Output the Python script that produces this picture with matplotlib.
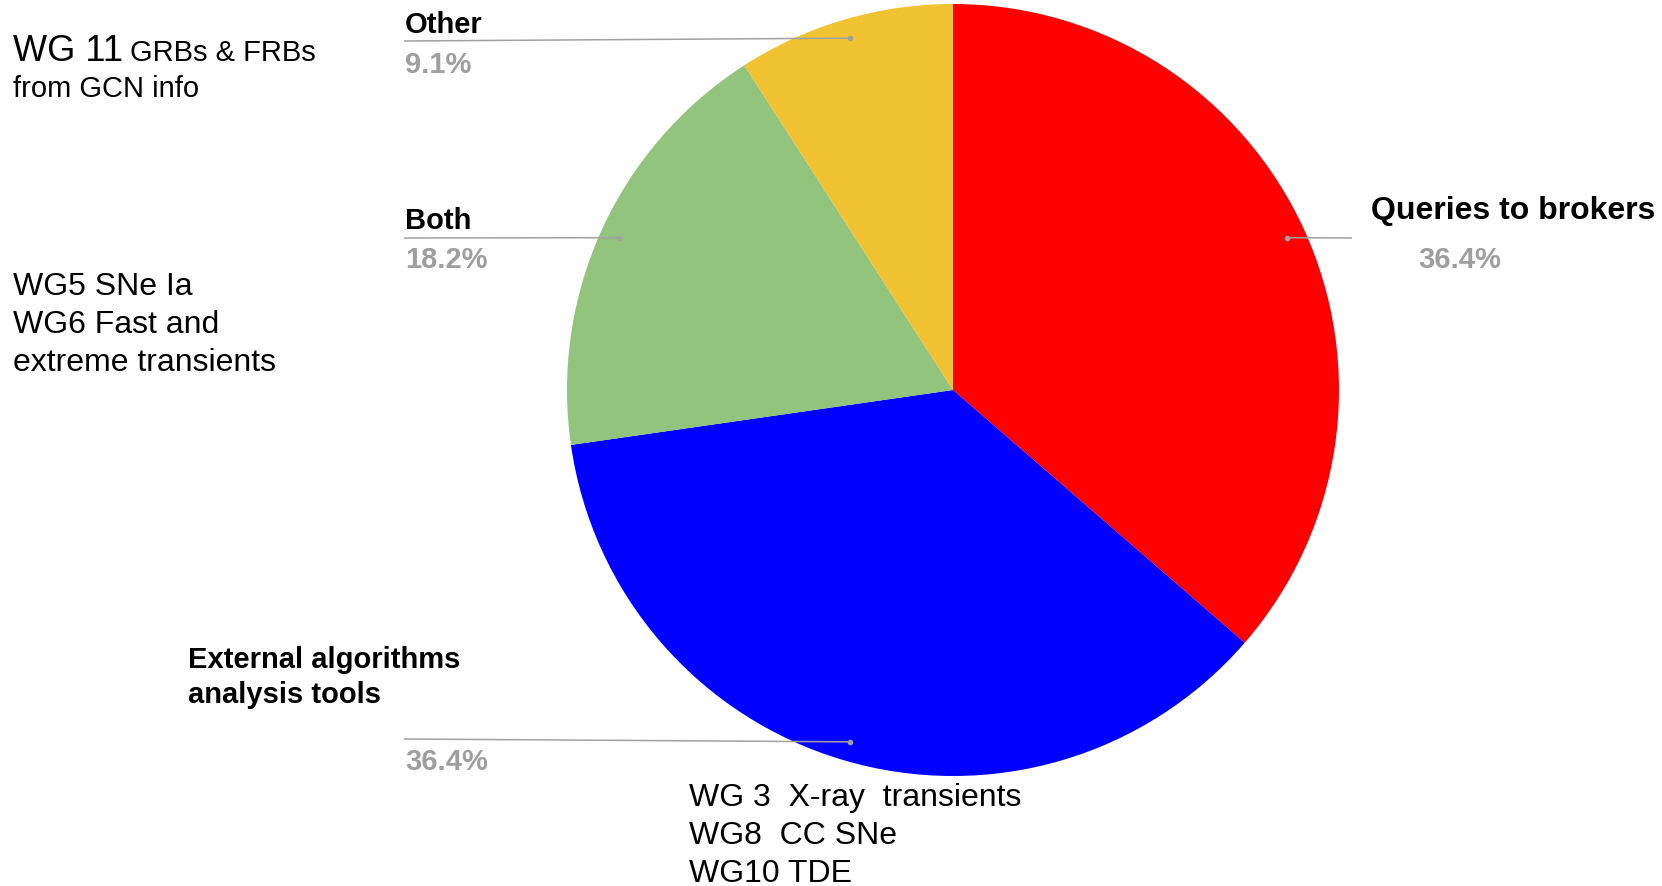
import numpy as np
import matplotlib.pyplot as plt

plt.rcParams['font.family'] = ['Liberation Sans', 'DejaVu Sans']

categories = ['Queries to brokers', 'External algorithms\nanalysis tools', 'Both', 'Other']
counts = [4, 4, 2, 1]
colors = ['#ff0000', '#0000ff', '#93c47d', '#f1c232']

W, H = 1662, 886
fig = plt.figure(figsize=(W / 100, H / 100), dpi=100)
ax = fig.add_axes([0, 0, 1, 1])

cx, cy, r = 953, H - 390, 386
wedges, _ = ax.pie(counts, colors=colors, startangle=90, counterclock=False,
                   center=(cx, cy), radius=r,
                   wedgeprops=dict(linewidth=0, antialiased=True))
ax.set_xlim(0, W)
ax.set_ylim(0, H)
ax.set_aspect('equal')
ax.axis('off')

pct = [100 * c / sum(counts) for c in counts]
grey = '#9e9e9e'
line_grey = '#a0a0a0'


def Y(y):
    # pixel row (from top) -> data y
    return H - y


# label placement: (label x, label baseline, label size, pct x, pct baseline, line end x, line end y)
label_pos = [
    (1371, 219, 23, 1418, 268, 1352, 238),
    (188, 668, 21, 405, 770, 404, 739),
    (405, 229, 21, 405, 268, 404, 238),
    (405, 33, 21, 405, 73, 404, 41),
]

for w, name, p, pos in zip(wedges, categories, pct, label_pos):
    lx, ly, fs, px, py, ex, ey = pos
    mid = np.deg2rad((w.theta1 + w.theta2) / 2)
    dx = cx + 0.95 * r * np.cos(mid)
    dy = cy + 0.95 * r * np.sin(mid)
    ax.plot([ex, dx], [Y(ey), dy], color=line_grey, lw=1.1, solid_capstyle='butt')
    ax.plot(dx, dy, 'o', ms=3, color=line_grey)
    for k, part in enumerate(name.split('\n')):
        ax.text(lx, Y(ly + 35 * k), part, fontsize=fs, fontweight='bold',
                ha='left', va='baseline')
    ax.text(px, Y(py), f'{p:.1f}%', fontsize=21, fontweight='bold', color=grey,
            ha='left', va='baseline')

# working group notes
ax.text(13, Y(61), 'WG 11', fontsize=26, va='baseline')
ax.text(130, Y(61), 'GRBs & FRBs', fontsize=21, va='baseline')
ax.text(13, Y(97), 'from GCN info', fontsize=21, va='baseline')

for i, line in enumerate(['WG5 SNe Ia', 'WG6 Fast and', 'extreme transients']):
    ax.text(13, Y(295 + 38 * i), line, fontsize=23, va='baseline')

for i, line in enumerate(['WG 3  X-ray  transients', 'WG8  CC SNe', 'WG10 TDE']):
    ax.text(689, Y(806 + 38 * i), line, fontsize=23, va='baseline')

fig.savefig('out.png', dpi=100, facecolor='white')
